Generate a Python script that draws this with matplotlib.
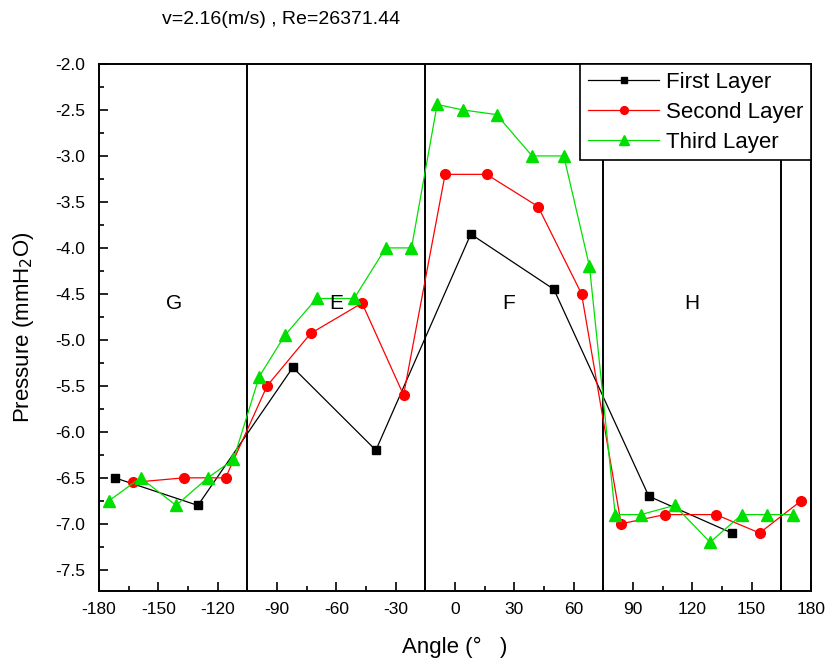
import matplotlib
matplotlib.use("Agg")
import matplotlib.pyplot as plt
from matplotlib.ticker import MultipleLocator

plt.rcParams['font.family'] = ['Liberation Sans', 'DejaVu Sans']
plt.rcParams['axes.unicode_minus'] = False

# Data
first_x = [-172, -130, -82, -40, 8, 50, 98, 140]
first_y = [-6.5, -6.8, -5.3, -6.2, -3.85, -4.45, -6.7, -7.1]

second_x = [-163, -137, -116, -95, -73, -47, -26, -5, 16, 42, 64, 84, 106, 132, 154, 175]
second_y = [-6.55, -6.5, -6.5, -5.5, -4.93, -4.6, -5.6, -3.2, -3.2, -3.55, -4.5,
            -7.0, -6.9, -6.9, -7.1, -6.75]

third_x = [-175, -159, -141, -125, -112, -99, -86, -70, -51, -35, -22, -9, 4, 21,
           39, 55, 68, 81, 94, 111, 129, 145, 158, 171]
third_y = [-6.75, -6.5, -6.8, -6.5, -6.3, -5.4, -4.95, -4.55, -4.55, -4.0, -4.0,
           -2.44, -2.5, -2.55, -3.0, -3.0, -4.2, -6.9, -6.9, -6.8, -7.2, -6.9, -6.9, -6.9]

boundaries = [-105, -15, 75, 165]
region_names = ["G", "E", "F", "H"]
region_x = [-142, -60, 27, 120]

fig = plt.figure(figsize=(8.25, 6.7), dpi=100)
ax = fig.add_axes([0.12, 0.118, 0.863, 0.7865])

for b in boundaries:
    ax.axvline(b, color="black", lw=1.4, zorder=1)

ax.plot(first_x, first_y, color="black", lw=0.9, marker="s", ms=6, label="First Layer", zorder=3)
ax.plot(second_x, second_y, color="red", lw=0.9, marker="o", ms=7, label="Second Layer", zorder=3)
ax.plot(third_x, third_y, color="#00e000", lw=0.9, marker="^", ms=9, label="Third Layer", zorder=3)

for name, x in zip(region_names, region_x):
    ax.text(x, -4.6, name, ha="center", va="center", fontsize=15)

ax.set_xlim(-180, 180)
ax.set_ylim(-7.73, -2.0)
ax.xaxis.set_major_locator(MultipleLocator(30))
ax.xaxis.set_minor_locator(MultipleLocator(15))
ax.yaxis.set_major_locator(MultipleLocator(0.5))
ax.yaxis.set_minor_locator(MultipleLocator(0.25))
ax.yaxis.set_major_formatter(plt.FuncFormatter(lambda v, p: f"{v:.1f}"))
ax.tick_params(which="both", direction="in", top=False, right=False, labelsize=12.5, width=1.2)
ax.tick_params(which="major", length=6.5)
ax.tick_params(axis="y", pad=10)
ax.tick_params(axis="x", pad=8)
ax.tick_params(which="minor", length=3.5)
for s in ax.spines.values():
    s.set_linewidth(1.4)

ax.set_xlabel("Angle (°   )", fontsize=16, labelpad=14)
ax.set_ylabel("Pressure (mmH$_2$O)", fontsize=16, labelpad=14)

leg = ax.legend(loc="upper right", borderaxespad=0, fontsize=16, fancybox=False,
                edgecolor="black", framealpha=1, handlelength=3.2, markerscale=0.8,
                labelspacing=0.4, borderpad=0.35, handletextpad=0.3)
leg.get_frame().set_linewidth(1.2)
leg.set_zorder(5)

fig.text(162 / 825, 1 - 20 / 670, "v=2.16(m/s) , Re=26371.44", fontsize=14, ha="left", va="center")

plt.savefig("out.png", dpi=100)
